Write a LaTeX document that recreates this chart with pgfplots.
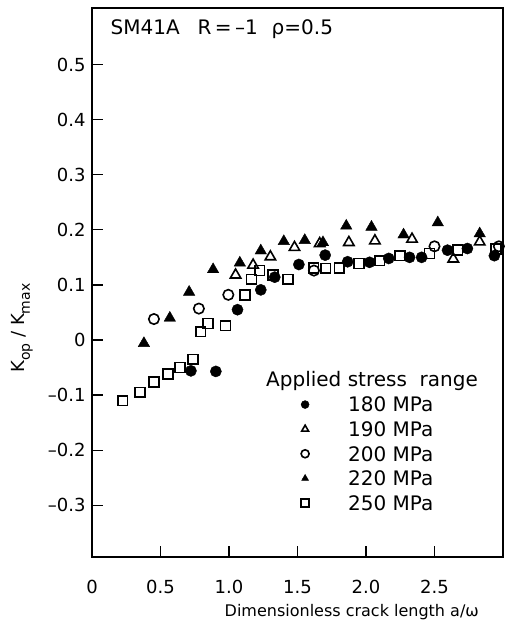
\documentclass[border=0pt]{standalone}
\usepackage{fontspec}
\setmainfont{DejaVu Sans}
\usepackage{pgfplots}
\pgfplotsset{compat=1.18}
\begin{document}
\begin{tikzpicture}
\path[use as bounding box] (-92pt,-82pt) rectangle (417pt,557pt);
\begin{axis}[
  scale only axis, width=411pt, height=549pt,
  at={(0pt,0pt)}, anchor=south west,
  xmin=0, xmax=3.0, ymin=-0.3938, ymax=0.6025,
  xtick={0,0.5,1,1.5,2,2.5}, xticklabels={0,0.5,1.0,1.5,2.0,2.5},
  ytick={-0.3,-0.2,-0.1,0,0.1,0.2,0.3,0.4,0.5},
  yticklabels={--0.3,--0.2,--0.1,0,0.1,0.2,0.3,0.4,0.5},
  tick pos=left, tick align=inside,
  major tick length=11pt,
  axis line style={line width=1.6pt},
  major tick style={line width=1.3pt, black},
  ticklabel style={font=\fontsize{18}{18}\selectfont},
  yticklabel style={xshift=-3pt},
  xticklabel style={yshift=-20pt},
  xlabel={Dimensionless crack length a/ω},
  xlabel style={font=\fontsize{16}{16}\selectfont, at={(axis description cs:0.632,-0.1087)}, anchor=base},
  ylabel={K\raisebox{-0.3em}{\fontsize{14}{14}\selectfont op} / K\raisebox{-0.3em}{\fontsize{14}{14}\selectfont max}},
  ylabel style={font=\fontsize{18}{18}\selectfont, at={(axis description cs:-0.170,0.417)}, anchor=center},
  legend image code/.code={\draw[#1, mark size=4pt] plot coordinates {(0pt,0pt)};},
  legend cell align=left,
  legend style={draw=none, fill=none, at={(0.5083,0.2913)}, anchor=north west,
    inner sep=0pt, column sep=39pt, row sep=10pt,
    nodes={inner sep=0pt, text height=14.6pt, text depth=0pt, font=\fontsize{20}{20}\selectfont}},
]
% 180 MPa
\addplot[only marks, mark=*, mark size=5.6pt, black] coordinates {
(0.722,-0.056) (0.904,-0.057) (1.062,0.055) (1.232,0.091) (1.334,0.114)
(1.510,0.137) (1.702,0.154) (1.866,0.142) (2.026,0.141) (2.166,0.148)
(2.318,0.150) (2.406,0.150) (2.595,0.163) (2.740,0.166) (2.937,0.153)};
\addlegendentry{180 MPa}
% 190 MPa
\addplot[only marks, mark=triangle, mark size=6pt, mark options={line width=1.6pt}, black] coordinates {
(1.048,0.118) (1.176,0.136) (1.302,0.151) (1.478,0.168) (1.662,0.175)
(1.875,0.177) (2.065,0.180) (2.336,0.183) (2.637,0.147) (2.830,0.178)};
\addlegendentry{190 MPa}
% 200 MPa
\addplot[only marks, mark=o, mark size=5.2pt, mark options={line width=1.6pt}, black] coordinates {
(0.452,0.038) (0.780,0.057) (0.995,0.082) (1.620,0.126) (2.500,0.170) (2.970,0.170)};
\addlegendentry{200 MPa}
% 220 MPa
\addplot[only marks, mark=triangle*, mark size=6.6pt, black] coordinates {
(0.379,-0.006) (0.568,0.040) (0.709,0.087) (0.884,0.128) (1.079,0.140)
(1.232,0.162) (1.400,0.179) (1.553,0.181) (1.686,0.177) (1.856,0.207)
(2.040,0.205) (2.274,0.191) (2.524,0.213) (2.830,0.193)};
\addlegendentry{220 MPa}
% 250 MPa
\addplot[only marks, mark=square, mark size=4.9pt, mark options={line width=1.6pt}, black] coordinates {
(0.224,-0.110) (0.350,-0.095) (0.454,-0.076) (0.556,-0.062) (0.641,-0.050)
(0.738,-0.035) (0.794,0.015) (0.848,0.030) (0.974,0.026) (1.118,0.082)
(1.164,0.110) (1.224,0.126) (1.320,0.118) (1.431,0.110) (1.618,0.131)
(1.706,0.130) (1.805,0.131) (1.950,0.139) (2.100,0.144) (2.248,0.153)
(2.464,0.157) (2.670,0.163) (2.950,0.165)};
\addlegendentry{250 MPa}
\node[anchor=base west, font=\fontsize{20}{20}\selectfont] at (axis cs:0.110,0.555)
  {SM41A\hspace{18pt}R\,=\,--1\hspace{14pt}ρ=0.5};
\node[anchor=base west, font=\fontsize{20}{20}\selectfont] at (axis cs:1.246,-0.0847)
  {Applied stress\ \ range};
\end{axis}
\end{tikzpicture}
\end{document}
